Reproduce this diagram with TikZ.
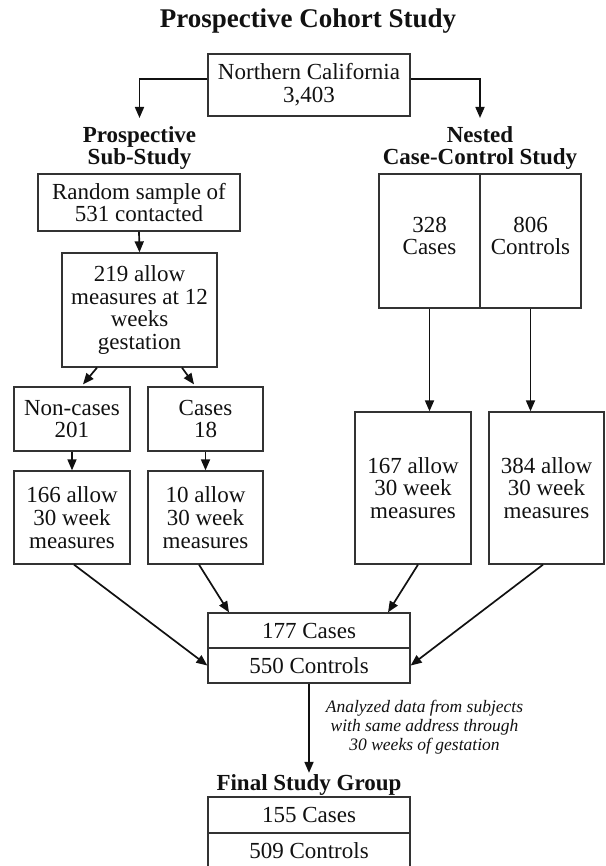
\documentclass[tikz,border=0pt]{standalone}
\usepackage{fontspec}
\setmainfont{Liberation Serif}
\usetikzlibrary{arrows.meta}
\definecolor{pcInk}{HTML}{111111}
\definecolor{pcRule}{HTML}{333333}
\newcommand{\PCType}{\fontsize{23}{22.7}\selectfont}
\newcommand{\PCNote}{\itshape\fontsize{17.5}{19}\selectfont}
\tikzset{pc/base/.style={x=1pt,y=-1pt,line join=miter,
  every node/.style={font=\PCType,inner sep=0pt,text=pcInk,align=center}},
  pc/title/.style={font=\fontsize{27}{30}\selectfont\bfseries},
  pc/head/.style={font=\PCType\bfseries},
  pc/note/.style={font=\PCNote},
  pc/box/.style 2 args={draw=pcRule,line width=1.3pt,minimum width=#1pt,
    minimum height=#2pt},
  pc/arrow/.style={-{Triangle[length=11pt,width=9pt]},draw=pcInk,line width=1.7pt}}

\begin{document}
\begin{tikzpicture}[pc/base]
  \useasboundingbox (0,0) rectangle (605,866);
  \clip (0,0) rectangle (605,866);
  \node[pc/title,anchor=base] (title) at (308,28) {Prospective Cohort Study};
  \node[pc/box={202}{62}] (cohort) at (309,85) {Northern California\\3,403};
  \node[pc/head] (subhead) at (139.5,148) {Prospective\\Sub-Study};
  \node[pc/head] (nestedhead) at (480,148) {Nested\\Case-Control Study};
  % prospective sub-study branch
  \node[pc/box={202}{57}] (random) at (139,202.5) {Random sample of\\531 contacted};
  \node[pc/box={155}{114}] (twelve) at (139.5,310) {219 allow\\measures at 12\\weeks\\gestation};
  \node[pc/box={116}{64}] (noncases) at (72,419) {Non-cases\\201};
  \node[pc/box={115}{64}] (cases18) at (205.5,419) {Cases\\18};
  \node[pc/box={116}{93}] (allow166) at (72,517.5) {166 allow\\30 week\\measures};
  \node[pc/box={115}{93}] (allow10) at (205.5,517.5) {10 allow\\30 week\\measures};
  % nested case-control branch
  \node[pc/box={101}{134},text depth=10pt] (cases328) at (429.5,241) {328\\Cases};
  \node[pc/box={101}{134},text depth=10pt] (controls806) at (530.5,241) {806\\Controls};
  \node[pc/box={116}{152}] (allow167) at (413,488) {167 allow\\30 week\\measures};
  \node[pc/box={115}{152}] (allow384) at (546.5,488) {384 allow\\30 week\\measures};
  % pooled and final groups
  \node[pc/box={202}{35}] (cases177) at (309,630.5) {177 Cases};
  \node[pc/box={202}{35}] (controls550) at (309,665.5) {550 Controls};
  \node[pc/note] (analysed) at (424.5,727) {Analyzed data from subjects\\with same address through\\30 weeks of gestation};
  \node[pc/head,anchor=base] (finalhead) at (309,790) {Final Study Group};
  \node[pc/box={202}{36}] (cases155) at (309,815) {155 Cases};
  \node[pc/box={202}{36}] (controls509) at (309,851) {509 Controls};
  % connectors
  \draw[pc/arrow] ([yshift=6pt]cohort.west) -| ([yshift=8pt]subhead.north);
  \draw[pc/arrow] ([yshift=6pt]cohort.east) -| ([yshift=8pt]nestedhead.north);
  \draw[pc/arrow] (random.south) -- (twelve.north);
  \draw[pc/arrow] ([xshift=-42.5pt]twelve.south) -- ([xshift=11pt,yshift=2pt]noncases.north);
  \draw[pc/arrow] ([xshift=42.5pt]twelve.south) -- ([xshift=-11.5pt,yshift=2pt]cases18.north);
  \draw[pc/arrow] (noncases.south) -- (allow166.north);
  \draw[pc/arrow] (cases18.south) -- (allow10.north);
  \draw[pc/arrow] (cases328.south) -- (cases328.south |- allow167.north);
  \draw[pc/arrow] (controls806.south) -- (controls806.south |- allow384.north);
  \draw[pc/arrow] ([xshift=2pt]allow166.south) -- (controls550.west);
  \draw[pc/arrow] ([xshift=-6.5pt]allow10.south) -- ([xshift=-80pt]cases177.north);
  \draw[pc/arrow] ([xshift=5pt]allow167.south) -- ([xshift=79pt]cases177.north);
  \draw[pc/arrow] ([xshift=-3.5pt]allow384.south) -- (controls550.east);
  \draw[pc/arrow] (controls550.south) -- ([yshift=1pt]finalhead.north);
\end{tikzpicture}
\end{document}
